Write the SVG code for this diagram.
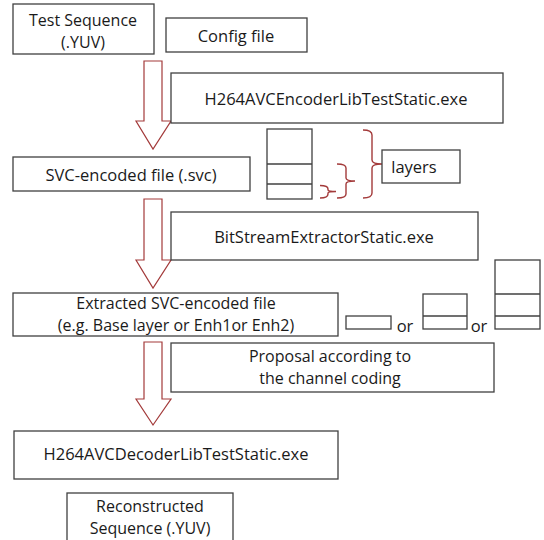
<svg xmlns="http://www.w3.org/2000/svg" width="544" height="540" viewBox="0 0 544 540">
<style>
.box{fill:#fff;stroke:#404040;stroke-width:1.3}
.t{font-family:"Open Sans","Noto Sans","DejaVu Sans",sans-serif;font-size:16.5px;fill:#1a1a1a;text-anchor:middle}
.t2{font-size:16px}
.arr{fill:#fff;stroke:#a33a3a;stroke-width:1.2;stroke-linejoin:miter}
.br{fill:none;stroke:#a33a3a;stroke-width:1.4}
</style>
<rect width="544" height="540" fill="#fff"/>
<g id="connectors">
<path class="arr" d="M144,61 H162 V121 H171 L153,149 L136,121 H144 Z"/>
<path class="arr" d="M144,199 H162 V260 H171 L153,288 L136,260 H144 Z"/>
<path class="arr" d="M144,342 H162 V399 H171 L153,425 L136,399 H144 Z"/>
<path class="br" d="M320,185.5 Q328,185.5 328,189 V190 Q328,191.5 336,191.5 Q328,191.5 328,193 V194 Q328,198 320,198"/>
<path class="br" d="M337,164 Q346,164 346,168 V178 Q346,181 355,181 Q346,181 346,184 V194 Q346,198 337,198"/>
<path class="br" d="M363,130 Q372,130 372,135 V160 Q372,164 382,164 Q372,164 372,168 V193 Q372,198 363,198"/>
</g>
<g id="test-sequence">
<rect class="box" x="13" y="4" width="141" height="50"/>
<text class="t t2" x="83" y="26">Test Sequence</text>
<text class="t t2" x="83" y="48">(.YUV)</text>
</g>
<g id="config-file">
<rect class="box" x="166" y="18" width="141" height="34"/>
<text class="t" x="236" y="42">Config file</text>
</g>
<g id="encoder">
<rect class="box" x="171" y="73" width="332" height="50"/>
<text class="t" x="336" y="105">H264AVCEncoderLibTestStatic.exe</text>
</g>
<g id="svc-file">
<rect class="box" x="13" y="157" width="237" height="34"/>
<text class="t" x="131" y="181">SVC-encoded file (.svc)</text>
</g>
<g id="layer-stack">
<rect class="box" x="267" y="129" width="45" height="70"/>
<line class="box" x1="267" y1="164" x2="312" y2="164"/>
<line class="box" x1="267" y1="184" x2="312" y2="184"/>
</g>
<g id="layers">
<rect class="box" x="382" y="150" width="78" height="33"/>
<text class="t" x="414" y="173">layers</text>
</g>
<g id="extractor">
<rect class="box" x="171" y="212" width="307" height="48"/>
<text class="t" x="324" y="243">BitStreamExtractorStatic.exe</text>
</g>
<g id="extracted-file">
<rect class="box" x="13" y="293" width="325" height="43"/>
<text class="t t2" x="176" y="309">Extracted SVC-encoded file</text>
<text class="t t2" x="176" y="331">(e.g. Base layer or Enh1or Enh2)</text>
</g>
<g id="option-1">
<rect class="box" x="346" y="316" width="45" height="13"/>
</g>
<text class="t" x="405" y="332">or</text>
<g id="option-2">
<rect class="box" x="423" y="294" width="44" height="35"/>
<line class="box" x1="423" y1="316" x2="467" y2="316"/>
</g>
<text class="t" x="479" y="332">or</text>
<g id="option-3">
<rect class="box" x="495" y="260" width="45" height="69"/>
<line class="box" x1="495" y1="294" x2="540" y2="294"/>
<line class="box" x1="495" y1="316" x2="540" y2="316"/>
</g>
<g id="proposal">
<rect class="box" x="171" y="343" width="323" height="49"/>
<text class="t t2" x="330" y="362">Proposal according to</text>
<text class="t t2" x="330" y="384">the channel coding</text>
</g>
<g id="decoder">
<rect class="box" x="14" y="431" width="324" height="48"/>
<text class="t" x="176" y="460">H264AVCDecoderLibTestStatic.exe</text>
</g>
<g id="reconstructed">
<rect class="box" x="67" y="493" width="166" height="52"/>
<text class="t t2" x="150" y="512">Reconstructed</text>
<text class="t t2" x="150" y="534">Sequence (.YUV)</text>
</g>
</svg>
